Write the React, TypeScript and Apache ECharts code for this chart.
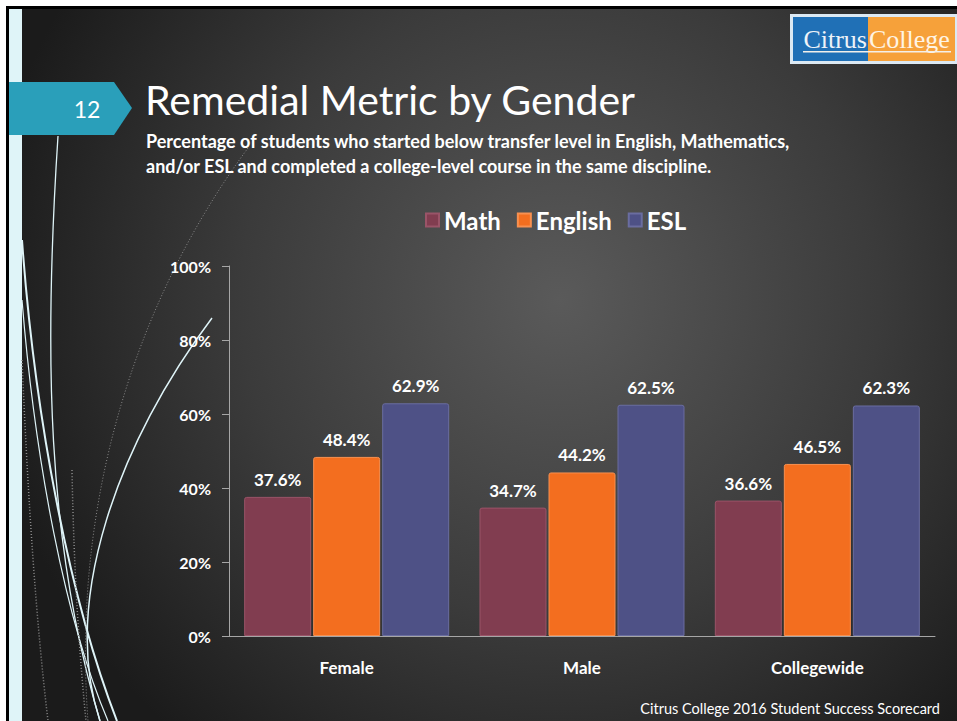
import React, { useEffect, useRef } from "react";
import * as echarts from "echarts";

const categories = ["Female", "Male", "Collegewide"];
const mathValues = [37.6, 34.7, 36.6];
const englishValues = [48.4, 44.2, 46.5];
const eslValues = [62.9, 62.5, 62.3];
const seriesNames = ["Math", "English", "ESL"];
const yMax = 100;
const yInterval = 20;

const titleText = "Remedial Metric by Gender";
const subtitleLines = [
  "Percentage of students who started below transfer level in English, Mathematics,",
  "and/or ESL and completed a college-level course in the same discipline.",
];
const slideNumber = "12";
const footerText = "Citrus College 2016 Student Success Scorecard";

const FONT = "Lato, 'Open Sans', sans-serif";
const COLORS = { math: "#813d50", english: "#f36e1f", esl: "#4e5186" };

export default function App() {
  const ref = useRef<HTMLDivElement>(null);

  useEffect(() => {
    if (!ref.current) return;
    const chart = echarts.init(ref.current, null, { renderer: "svg" });

    const barLabel = {
      show: true,
      position: "top",
      distance: 9,
      color: "#ffffff",
      fontFamily: FONT,
      fontWeight: "bold",
      fontSize: 17,
      formatter: (p: any) => `${Number(p.value).toFixed(1)}%`,
    };

    const mkSeries = (name: string, data: number[], color: string, border: string) => ({
      name,
      type: "bar",
      data,
      barWidth: 67,
      barGap: "3%",
      itemStyle: { color, borderColor: border, borderWidth: 1, borderRadius: [2, 2, 0, 0] },
      label: barLabel,
    });

    const cyan = "#dff4f8";

    const option: any = {
      animation: false,
      textStyle: { fontFamily: FONT },
      graphic: [
        { type: "rect", z: -10, silent: true, shape: { x: 6, y: 6, width: 951, height: 715 }, style: { fill: "#000000" } },
        {
          type: "rect",
          z: -9,
          silent: true,
          shape: { x: 9, y: 9, width: 948, height: 712 },
          style: {
            fill: {
              type: "radial",
              x: 560,
              y: 300,
              r: 580,
              global: true,
              colorStops: [
                { offset: 0, color: "#5a5a5a" },
                { offset: 0.55, color: "#3b3b3b" },
                { offset: 1, color: "#1b1b1b" },
              ],
            },
          },
        },
        { type: "rect", z: -8, silent: true, shape: { x: 9, y: 9, width: 13, height: 712 }, style: { fill: cyan } },
        // decorative curves
        {
          type: "bezierCurve", z: -7, silent: true,
          shape: { x1: 58, y1: 136, cpx1: 44, cpy1: 350, cpx2: 46, cpy2: 540, x2: 100, y2: 721 },
          style: { stroke: cyan, lineWidth: 1.3, fill: null },
        },
        {
          type: "bezierCurve", z: -7, silent: true,
          shape: { x1: 22, y1: 240, cpx1: 35, cpy1: 420, cpx2: 70, cpy2: 600, x2: 117, y2: 721 },
          style: { stroke: cyan, lineWidth: 2, fill: null },
        },
        {
          type: "bezierCurve", z: -7, silent: true,
          shape: { x1: 22, y1: 300, cpx1: 35, cpy1: 460, cpx2: 65, cpy2: 620, x2: 108, y2: 721 },
          style: { stroke: cyan, lineWidth: 1.2, fill: null },
        },
        {
          type: "bezierCurve", z: -7, silent: true,
          shape: { x1: 212, y1: 318, cpx1: 120, cpy1: 440, cpx2: 60, cpy2: 600, x2: 100, y2: 721 },
          style: { stroke: cyan, lineWidth: 1.5, fill: null },
        },
        {
          type: "bezierCurve", z: -7, silent: true,
          shape: { x1: 248, y1: 148, cpx1: 150, cpy1: 280, cpx2: 70, cpy2: 480, x2: 88, y2: 721 },
          style: { stroke: "#8a8a8a", lineWidth: 1, lineDash: [1, 2], fill: null },
        },
        {
          type: "bezierCurve", z: -7, silent: true,
          shape: { x1: 22, y1: 360, cpx1: 28, cpy1: 500, cpx2: 36, cpy2: 620, x2: 48, y2: 721 },
          style: { stroke: "#8a8a8a", lineWidth: 1.5, lineDash: [1, 2], fill: null },
        },
        {
          type: "bezierCurve", z: -7, silent: true,
          shape: { x1: 72, y1: 470, cpx1: 74, cpy1: 580, cpx2: 80, cpy2: 660, x2: 86, y2: 721 },
          style: { stroke: "#8a8a8a", lineWidth: 1.5, lineDash: [1, 2], fill: null },
        },
        // slide number tab
        {
          type: "polygon", silent: true,
          shape: { points: [[9, 82], [114, 82], [132, 108], [114, 135], [9, 135]] },
          style: { fill: "#2a9fba" },
        },
        {
          type: "text", silent: true, x: 87, y: 109,
          style: { text: slideNumber, fill: "#ffffff", font: `23px ${FONT}`, align: "center", verticalAlign: "middle" },
        },
        // title
        {
          type: "text", silent: true, x: 145, y: 99,
          style: { text: titleText, fill: "#ffffff", font: `41px ${FONT}`, verticalAlign: "middle" },
        },
        {
          type: "text", silent: true, x: 146, y: 141,
          style: { text: subtitleLines[0], fill: "#ffffff", font: `bold 18px ${FONT}`, verticalAlign: "middle" },
        },
        {
          type: "text", silent: true, x: 146, y: 166,
          style: { text: subtitleLines[1], fill: "#ffffff", font: `bold 18px ${FONT}`, verticalAlign: "middle" },
        },
        // logo
        { type: "rect", silent: true, shape: { x: 790, y: 14, width: 167, height: 50 }, style: { fill: "#dce9f3" } },
        { type: "rect", silent: true, shape: { x: 793, y: 17, width: 75, height: 44 }, style: { fill: "#2070b6" } },
        { type: "rect", silent: true, shape: { x: 868, y: 17, width: 87, height: 44 }, style: { fill: "#f6a13a" } },
        {
          type: "text", silent: true, x: 867, y: 39,
          style: { text: "Citrus", fill: "#eef3f8", font: `26px 'Liberation Serif', 'DejaVu Serif', serif`, align: "right", verticalAlign: "middle" },
        },
        {
          type: "text", silent: true, x: 869, y: 39,
          style: { text: "College", fill: "#fff4e4", font: `26px 'Liberation Serif', 'DejaVu Serif', serif`, align: "left", verticalAlign: "middle" },
        },
        { type: "rect", silent: true, shape: { x: 803, y: 51, width: 148, height: 1.5 }, style: { fill: "#f3f0ea" } },
        // footer
        {
          type: "text", silent: true, x: 940, y: 708,
          style: { text: footerText, fill: "#ffffff", font: `14.5px ${FONT}`, align: "right", verticalAlign: "middle" },
        },
      ],
      legend: {
        top: 203,
        left: 420,
        itemWidth: 13,
        itemHeight: 13,
        itemGap: 16,
        icon: "rect",
        data: seriesNames,
        textStyle: { color: "#ffffff", fontFamily: FONT, fontWeight: "bold", fontSize: 24 },
      },
      grid: { left: 229, right: 22, top: 266, bottom: 85, containLabel: false },
      xAxis: {
        type: "category",
        data: categories,
        axisLine: { lineStyle: { color: "#a6a6a6", width: 1 } },
        axisTick: { show: false },
        axisLabel: { color: "#ffffff", fontFamily: FONT, fontWeight: "bold", fontSize: 17, margin: 23 },
      },
      yAxis: {
        type: "value",
        min: 0,
        max: yMax,
        interval: yInterval,
        axisLine: { show: true, lineStyle: { color: "#a6a6a6", width: 1 } },
        axisTick: { show: true, length: 7, lineStyle: { color: "#a6a6a6" } },
        splitLine: { show: false },
        axisLabel: {
          color: "#ffffff",
          fontFamily: FONT,
          fontWeight: "bold",
          fontSize: 16,
          margin: 18,
          formatter: (v: number) => `${v}%`,
        },
      },
      series: [
        mkSeries(seriesNames[0], mathValues, COLORS.math, "#9a5468"),
        mkSeries(seriesNames[1], englishValues, COLORS.english, "#f89050"),
        mkSeries(seriesNames[2], eslValues, COLORS.esl, "#6a6da0"),
      ],
    };

    chart.setOption(option);
    return () => chart.dispose();
  }, []);

  return (
    <div
      ref={ref}
      style={{ position: "absolute", left: 0, top: 0, width: 957, height: 721 }}
    />
  );
}
